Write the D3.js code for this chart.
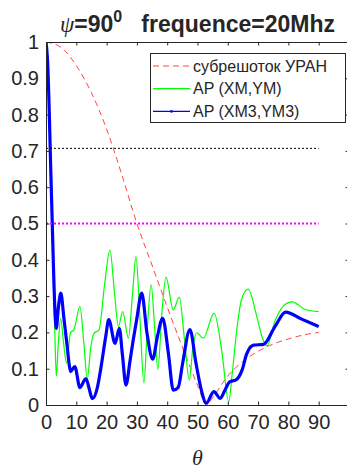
<!DOCTYPE html>
<html><head><meta charset="utf-8">
<script src="https://cdn.jsdelivr.net/npm/d3@7/dist/d3.min.js"></script>
<style>
body{margin:0;background:#fff;}
svg text{font-family:Arial,"Liberation Sans",Helvetica,sans-serif;fill:#262626;}
</style>
</head><body>
<svg id="chart" width="347" height="470"></svg>
<script>
// Tick values
const xTicks = [0, 10, 20, 30, 40, 50, 60, 70, 80, 90];
const yTicks = [0, 0.1, 0.2, 0.3, 0.4, 0.5, 0.6, 0.7, 0.8, 0.9, 1];

// Subarray pattern (dashed red)
const thetaSub = [0, 5, 10, 15, 20, 25, 30, 35, 40, 45, 50, 53, 55, 60, 65, 70, 75, 80, 85, 90];
const subarray = [1.0, 0.985, 0.935, 0.86, 0.76, 0.635, 0.50, 0.385, 0.27, 0.16, 0.055, 0.0, 0.02, 0.08, 0.12, 0.148, 0.168, 0.182, 0.193, 0.20];

// Array pattern, element positions XM,YM (green)
const thetaXM = [0, 0.5, 1.0, 1.5, 2.0, 2.5, 3.0, 3.4, 4.0, 4.85, 5.8, 6.8, 8.1, 9.2, 11.2, 12.5, 13.6, 14.8, 15.8, 17.5,
  19.3, 21.1, 22.6, 23.9, 25.3, 27.2, 28.5, 29.7, 31.0, 32.3, 33.5, 34.7, 35.8, 36.9, 38.3, 39.6, 42.0, 44.0, 45.7, 47.3,
  48.5, 49.7, 51.9, 55.5, 58.0, 60.3, 61.5, 63.0, 64.5, 66.7, 69.6, 71.3, 72.9, 75.7, 78.4, 81.2, 85.6, 90.0];
const apXM = [1.0, 0.95, 0.83, 0.67, 0.50, 0.33, 0.17, 0.08, 0.16, 0.239, 0.17, 0.115, 0.20, 0.207, 0.271, 0.17, 0.071, 0.16, 0.197, 0.207,
  0.33, 0.427, 0.31, 0.216, 0.257, 0.184, 0.30, 0.409, 0.24, 0.061, 0.22, 0.332, 0.22, 0.098, 0.26, 0.352, 0.262, 0.297, 0.18, 0.069,
  0.16, 0.199, 0.184, 0.253, 0.15, 0.009, 0.09, 0.21, 0.29, 0.319, 0.243, 0.188, 0.163, 0.234, 0.273, 0.284, 0.263, 0.257];

// Array pattern, element positions XM3,YM3 (blue)
const thetaXM3 = [0, 0.5, 1.0, 1.5, 2.0, 2.5, 3.0, 3.4, 4.1, 4.9, 5.9, 7.0, 7.6, 8.1, 9.5, 11.2, 13.1, 15.4, 17.0, 18.0,
  19.7, 20.7, 22.8, 24.2, 25.2, 26.4, 27.7, 28.8, 29.9, 31.6, 33.3, 35.2, 36.8, 38.5, 40.4, 42.0, 43.6, 45.1, 47.5, 49.5,
  51.3, 52.9, 55.4, 57.5, 59.0, 60.6, 62.7, 64.7, 66.2, 68.5, 71.8, 75.5, 79.1, 84.0, 90.0];
const apXM3 = [1.0, 0.95, 0.83, 0.67, 0.52, 0.37, 0.25, 0.211, 0.27, 0.308, 0.24, 0.161, 0.115, 0.092, 0.106, 0.048, 0.072, 0.018, 0.05, 0.096,
  0.188, 0.235, 0.17, 0.211, 0.14, 0.055, 0.12, 0.18, 0.234, 0.308, 0.2, 0.126, 0.19, 0.239, 0.142, 0.041, 0.048, 0.115, 0.208, 0.115,
  0.04, 0.005, 0.037, 0.018, 0.04, 0.064, 0.069, 0.096, 0.14, 0.165, 0.167, 0.215, 0.256, 0.238, 0.216];

// Reference levels
const levels = [0.707, 0.5];
const levelColors = ["#000000", "#ff00ff"];

const legendLabels = ["субрешоток УРАН", "AP (XM,YM)", "AP (XM3,YM3)"];

const svg = d3.select("#chart");
const x = d3.scaleLinear().domain([0, 100]).range([46, 349]);
const y = d3.scaleLinear().domain([0, 1]).range([405, 42]);
const axisColor = "#262626";

svg.append("defs").append("clipPath").attr("id", "plot")
  .append("rect").attr("x", x(0)).attr("y", y(1)).attr("width", x(100) - x(0)).attr("height", y(0) - y(1));

const plot = svg.append("g").attr("clip-path", "url(#plot)");
const zip = (a, b) => a.map((t, i) => [t, b[i]]);
const line = d3.line().x(d => x(d[0])).y(d => y(d[1])).curve(d3.curveMonotoneX);

plot.append("path").datum(zip(thetaSub, subarray)).attr("d", line)
  .attr("fill", "none").attr("stroke", "#ff3030").attr("stroke-width", 0.9).attr("stroke-dasharray", "6,4");
plot.append("path").datum(zip(thetaXM, apXM)).attr("d", line)
  .attr("fill", "none").attr("stroke", "#00ff00").attr("stroke-width", 1.2);
plot.append("path").datum(zip(thetaXM3, apXM3)).attr("d", line)
  .attr("fill", "none").attr("stroke", "#0000ff").attr("stroke-width", 3.2).attr("stroke-linejoin", "round");

levels.forEach((lv, i) => {
  plot.append("line").attr("x1", x(0)).attr("x2", x(90)).attr("y1", y(lv)).attr("y2", y(lv))
    .attr("stroke", levelColors[i]).attr("stroke-width", i === 0 ? 1 : 2)
    .attr("stroke-dasharray", "2,2");
});

// Axes (box with inward ticks)
const tl = 3.5;
const axB = svg.append("g").attr("transform", `translate(0,${y(0)})`)
  .call(d3.axisBottom(x).tickValues(xTicks).tickSizeInner(-tl).tickSizeOuter(0).tickPadding(10).tickFormat(d3.format("d")));
const axT = svg.append("g").attr("transform", `translate(0,${y(1)})`)
  .call(d3.axisTop(x).tickValues(xTicks.concat([100])).tickSizeInner(-tl).tickSizeOuter(0).tickFormat(""));
const axL = svg.append("g").attr("transform", `translate(${x(0)},0)`)
  .call(d3.axisLeft(y).tickValues(yTicks).tickSizeInner(-tl).tickSizeOuter(0).tickPadding(7).tickFormat(d => d3.format("")(+d.toFixed(1))));
const axR = svg.append("g").attr("transform", `translate(${x(100)},0)`)
  .call(d3.axisRight(y).tickValues(yTicks).tickSizeInner(-tl).tickSizeOuter(0).tickFormat(""));
[axB, axT, axL, axR].forEach(g => {
  g.select(".domain").attr("stroke", axisColor).attr("stroke-width", 1);
  g.selectAll(".tick line").attr("stroke", axisColor);
  g.selectAll("text").attr("fill", axisColor).style("font-size", "20px").attr("font-family", "Arial, 'Liberation Sans', sans-serif");
});
axB.selectAll("text").attr("dy", "0.71em");

// Axis label
svg.append("text").attr("x", x(50)).attr("y", 465).attr("text-anchor", "middle")
  .style("font-family", "'Liberation Serif','Times New Roman',serif").style("font-style", "italic").style("font-size", "22px")
  .text("θ");

// Title
const title = svg.append("text").attr("x", x(50)).attr("y", 32).attr("text-anchor", "middle")
  .style("font-size", "23px").style("font-weight", "bold");
title.append("tspan").style("font-family", "'Liberation Serif','Times New Roman',serif").style("font-style", "italic").style("font-weight", "normal").text("ψ");
title.append("tspan").text("=90");
title.append("tspan").attr("dy", -10).style("font-size", "16px").text("0");
title.append("tspan").attr("dy", 10).text("\u00a0\u00a0\u00a0frequence=20Mhz");

// Legend
const lg = svg.append("g");
lg.append("rect").attr("x", 150.5).attr("y", 53.5).attr("width", 195).attr("height", 69)
  .attr("fill", "#fff").attr("stroke", axisColor).attr("stroke-width", 1);
const legendStyles = [
  {c: "#ff3030", w: 0.9, dash: "6,4"},
  {c: "#00ff00", w: 1.2, dash: null},
  {c: "#0000ff", w: 1.2, dash: null}
];
legendLabels.forEach((lab, i) => {
  const yy = 66 + i * 22.7;
  const s = legendStyles[i];
  const ln = lg.append("line").attr("x1", 153).attr("x2", 190).attr("y1", yy).attr("y2", yy)
    .attr("stroke", s.c).attr("stroke-width", s.w);
  if (s.dash) ln.attr("stroke-dasharray", s.dash);
  if (i === 2) lg.append("circle").attr("cx", 171.5).attr("cy", yy).attr("r", 1.3).attr("fill", s.c);
  lg.append("text").attr("x", 193).attr("y", yy).attr("dy", "0.35em").style("font-size", "16px").text(lab);
});
</script>
</body></html>
